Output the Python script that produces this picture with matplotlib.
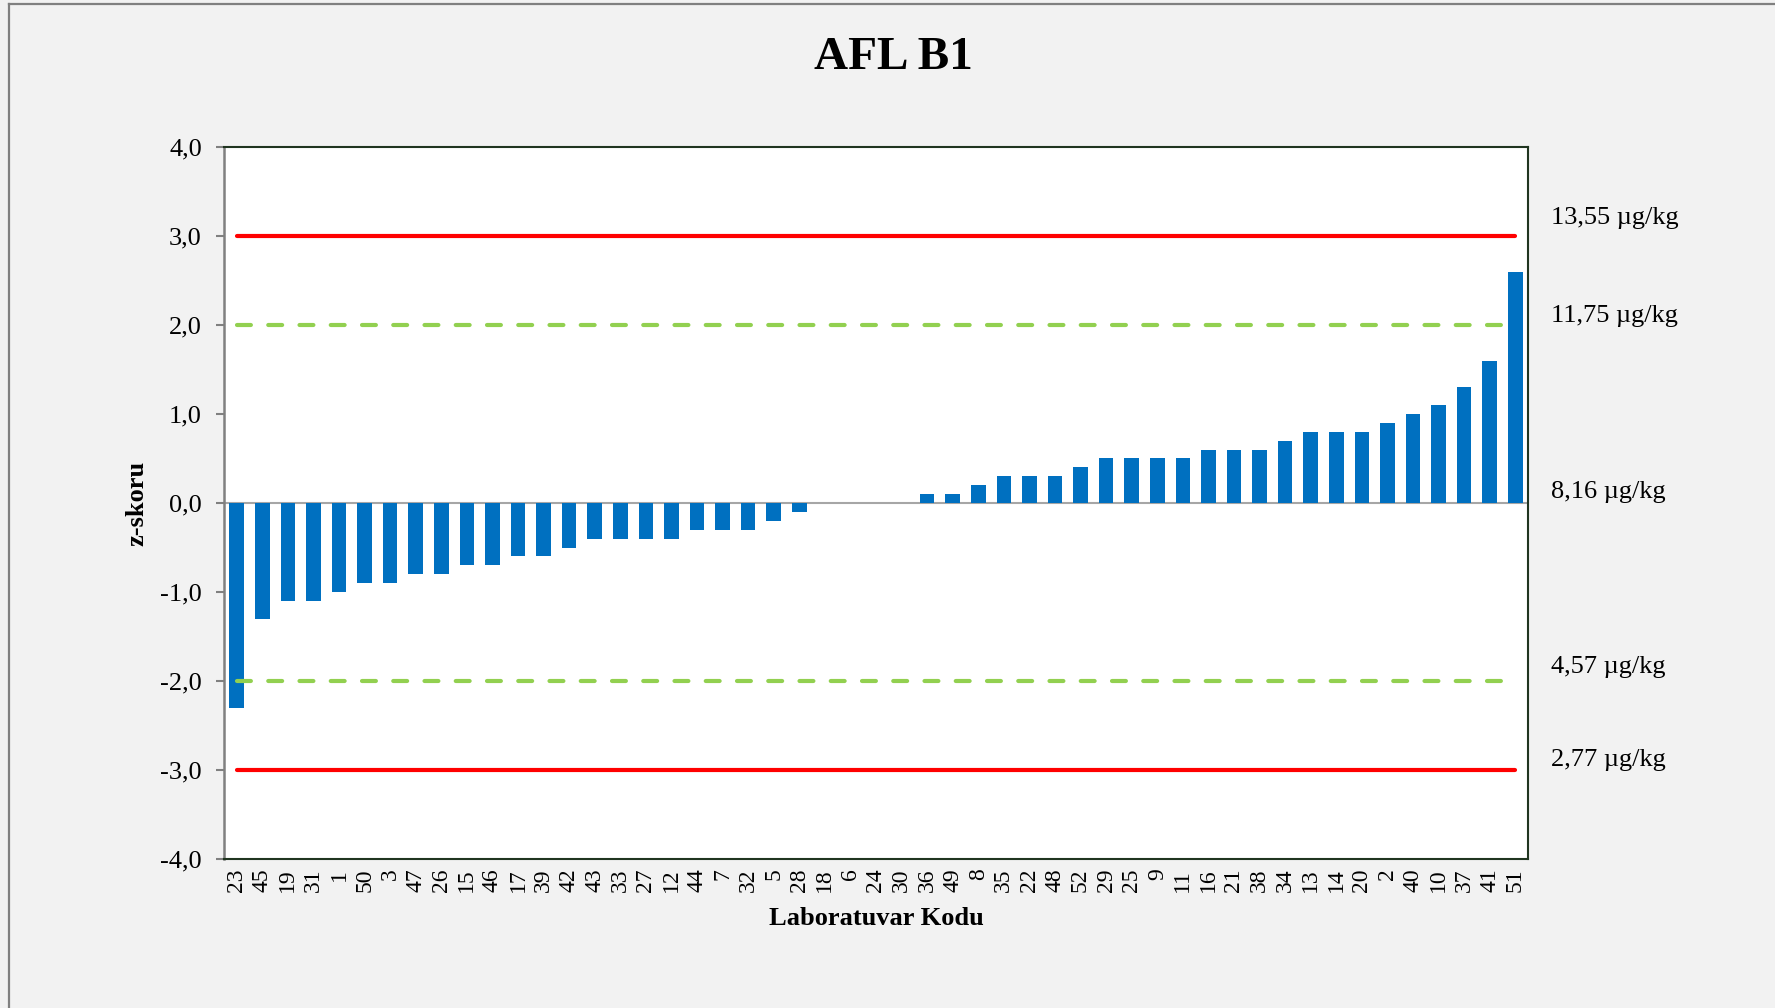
import matplotlib
matplotlib.use("Agg")
import matplotlib.pyplot as plt
from matplotlib.lines import Line2D
from matplotlib.ticker import FuncFormatter, MultipleLocator

# lab codes in the order they appear on the x axis
lab_codes = ["23", "45", "19", "31", "1", "50", "3", "47", "26", "15", "46", "17", "39",
             "42", "43", "33", "27", "12", "44", "7", "32", "5", "28", "18", "6", "24",
             "30", "36", "49", "8", "35", "22", "48", "52", "29", "25", "9", "11", "16",
             "21", "38", "34", "13", "14", "20", "2", "40", "10", "37", "41", "51"]
z_scores = [-2.3, -1.3, -1.1, -1.1, -1.0, -0.9, -0.9, -0.8, -0.8, -0.7, -0.7, -0.6, -0.6,
            -0.5, -0.4, -0.4, -0.4, -0.4, -0.3, -0.3, -0.3, -0.2, -0.1, 0.0, 0.0, 0.0,
            0.0, 0.1, 0.1, 0.2, 0.3, 0.3, 0.3, 0.4, 0.5, 0.5, 0.5, 0.5, 0.6,
            0.6, 0.6, 0.7, 0.8, 0.8, 0.8, 0.9, 1.0, 1.1, 1.3, 1.6, 2.6]

# limit lines and the concentrations written on the right
action_limits = [3.0, -3.0]
warning_limits = [2.0, -2.0]
conc_labels = ["13,55 µg/kg", "11,75 µg/kg", "8,16 µg/kg", "4,57 µg/kg", "2,77 µg/kg"]
conc_label_y = [3.2, 2.1, 0.12, -1.84, -2.89]

BAR_COLOR = "#0070C0"
RED = "#FF0000"
GREEN = "#92D050"
BG = "#F2F2F2"

plt.rcParams["font.family"] = ["Liberation Serif", "DejaVu Serif"]
plt.rcParams["lines.scale_dashes"] = False

fig = plt.figure(figsize=(17.75, 10.08), dpi=100, facecolor=BG)
ax = fig.add_axes([224 / 1775, 149 / 1008, 1304 / 1775, 712 / 1008])
ax.set_facecolor("white")

x = list(range(len(lab_codes)))
ax.bar(x, z_scores, width=0.57, color=BAR_COLOR, zorder=3)

# zero line
ax.axhline(0, color="#A6A6A6", lw=1.5, zorder=2)

x0, x1 = x[0], x[-1]
for v in action_limits:
    ax.plot([x0, x1], [v, v], color=RED, lw=3.0, solid_capstyle="round", zorder=4)
for v in warning_limits:
    ax.plot([x0, x1 - 0.3], [v, v], color=GREEN, lw=3.0, dashes=(10, 12.5),
            dash_capstyle="round", zorder=4)

ax.set_xlim(-0.5, len(lab_codes) - 0.5)
ax.set_ylim(-4, 4)
ax.yaxis.set_major_locator(MultipleLocator(1))
ax.yaxis.set_major_formatter(FuncFormatter(lambda v, p: f"{v:.1f}".replace(".", ",")))

ax.set_xticks(x)
ax.set_xticklabels(lab_codes, rotation=90, fontsize=17)
ax.tick_params(axis="x", length=0, pad=7)
ax.tick_params(axis="y", labelsize=19, length=6, width=1.5, color="#808080", pad=10)

for side in ["top", "right", "bottom"]:
    ax.spines[side].set_color("#203520")
    ax.spines[side].set_linewidth(1.5)
ax.spines["left"].set_color("#808080")
ax.spines["left"].set_linewidth(1.8)

# concentration labels to the right of the plot
for txt, yv in zip(conc_labels, conc_label_y):
    ax.text(1.0175, yv, txt, transform=ax.get_yaxis_transform(), fontsize=19,
            ha="left", va="center")

ax.set_ylabel("z-skoru", fontsize=19, fontweight="bold", va="center")
ax.yaxis.set_label_coords(-0.0667, 0.5)
ax.set_xlabel("Laboratuvar Kodu", fontsize=19, fontweight="bold", va="center")
ax.xaxis.set_label_coords(0.5, -0.083)

fig.text(893 / 1775, 1 - 58 / 1008, "AFL B1", fontsize=34, fontweight="bold",
         ha="center", va="center")

# outer chart border (only top and left visible)
fig.add_artist(Line2D([8.5 / 1775, 8.5 / 1775], [0, 1 - 3.5 / 1008], color="#808080", lw=1.6))
fig.add_artist(Line2D([8.5 / 1775, 1], [1 - 3.5 / 1008, 1 - 3.5 / 1008], color="#808080", lw=1.6))

fig.savefig("out.png", dpi=100, facecolor=BG)
